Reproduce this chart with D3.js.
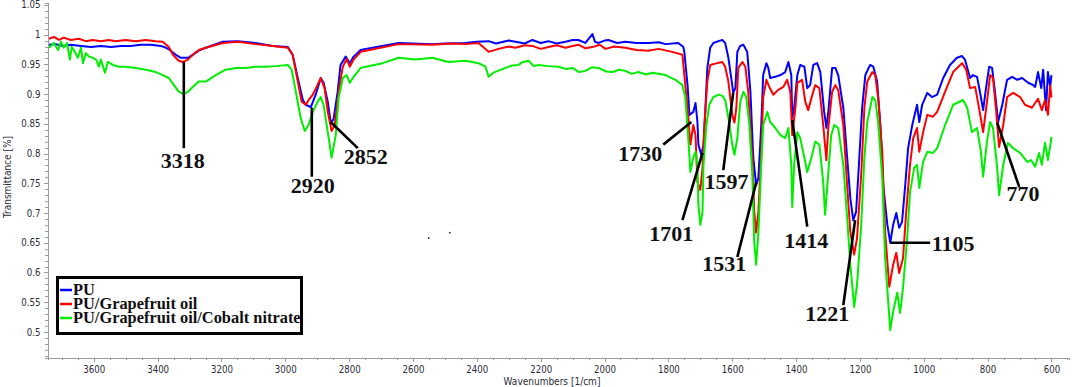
<!DOCTYPE html>
<meta charset="utf-8">
<head>
<style>
  body { margin:0; background:#fff; }
  .axis path, .axis line { stroke:#9c9c9c; shape-rendering:crispEdges; }
  .axis text { font-family:"DejaVu Sans Condensed","DejaVu Sans",sans-serif; font-stretch:condensed; font-size:9.6px; fill:#2b2b38; }
  .title { font-family:"DejaVu Sans Condensed","DejaVu Sans",sans-serif; font-stretch:condensed; font-size:10px; fill:#2b2b38; }
  .peak { font-family:"Liberation Serif","Times New Roman",serif; font-weight:bold; font-size:22px; fill:#111; }
  .legend text { font-family:"Liberation Serif","Times New Roman",serif; font-weight:bold; font-size:16.4px; fill:#111; }
</style>
</head>
<body>
<svg id="chart" width="1072" height="387"></svg>
<script src="https://d3js.org/d3.v7.min.js"></script>
<script>

// series names and colours
var seriesNames = ["PU", "PU/Grapefruit oil", "PU/Grapefruit oil/Cobalt nitrate"];
var seriesColors = ["#0000ff", "#ff0000", "#00ee00"];

// tick labels
var xTicks = [3600, 3400, 3200, 3000, 2800, 2600, 2400, 2200, 2000, 1800, 1600, 1400, 1200, 1000, 800, 600];
var yTicks = [0.5, 0.55, 0.6, 0.65, 0.7, 0.75, 0.8, 0.85, 0.9, 0.95, 1, 1.05];

// [wavenumber, transmittance]
var puData = [[3740,0.983],[3719,0.984],[3697,0.981],[3672,0.983],[3640,0.981],[3609,0.979],[3578,0.981],[3546,0.979],[3515,0.981],[3484,0.981],[3453,0.983],[3421,0.983],[3390,0.981],[3374,0.978],[3359,0.973],[3343,0.966],[3327,0.961],[3318,0.961],[3305,0.961],[3290,0.966],[3271,0.973],[3249,0.978],[3196,0.988],[3149,0.989],[3093,0.986],[3039,0.981],[2992,0.979],[2977,0.966],[2961,0.927],[2945,0.890],[2936,0.882],[2920,0.878],[2905,0.899],[2889,0.927],[2880,0.919],[2867,0.887],[2858,0.853],[2849,0.857],[2836,0.904],[2827,0.949],[2811,0.963],[2798,0.952],[2786,0.963],[2764,0.974],[2748,0.976],[2645,0.986],[2539,0.984],[2500,0.985],[2435,0.986],[2400,0.988],[2363,0.989],[2340,0.985],[2300,0.990],[2279,0.988],[2250,0.985],[2226,0.991],[2200,0.986],[2176,0.989],[2150,0.985],[2122,0.988],[2100,0.991],[2082,0.991],[2060,0.986],[2038,1.001],[2030,0.988],[2019,0.986],[2000,0.990],[1988,0.991],[1960,0.986],[1935,0.988],[1900,0.986],[1863,0.986],[1830,0.987],[1809,0.984],[1769,0.986],[1753,0.979],[1750,0.971],[1740,0.915],[1734,0.865],[1722,0.870],[1715,0.885],[1709,0.853],[1706,0.815],[1697,0.798],[1690,0.815],[1684,0.877],[1678,0.944],[1669,0.978],[1659,0.986],[1643,0.989],[1631,0.991],[1622,0.986],[1612,0.961],[1600,0.915],[1597,0.902],[1590,0.910],[1584,0.971],[1575,0.981],[1565,0.983],[1553,0.971],[1543,0.904],[1534,0.793],[1525,0.747],[1518,0.759],[1509,0.848],[1503,0.932],[1493,0.952],[1487,0.944],[1481,0.927],[1465,0.929],[1449,0.932],[1434,0.937],[1424,0.954],[1415,0.932],[1412,0.860],[1406,0.877],[1396,0.932],[1387,0.949],[1374,0.946],[1365,0.910],[1356,0.915],[1346,0.949],[1334,0.952],[1324,0.937],[1312,0.870],[1305,0.843],[1299,0.870],[1287,0.944],[1277,0.944],[1268,0.932],[1252,0.877],[1240,0.793],[1230,0.725],[1221,0.688],[1212,0.702],[1205,0.764],[1193,0.877],[1183,0.932],[1168,0.949],[1158,0.946],[1146,0.921],[1136,0.848],[1127,0.747],[1114,0.680],[1105,0.650],[1096,0.680],[1086,0.700],[1077,0.675],[1068,0.685],[1058,0.747],[1049,0.809],[1036,0.848],[1021,0.882],[1014,0.853],[1005,0.882],[989,0.902],[974,0.895],[958,0.899],[939,0.927],[918,0.949],[896,0.961],[880,0.964],[871,0.958],[855,0.927],[846,0.932],[833,0.929],[824,0.904],[814,0.873],[805,0.910],[795,0.946],[786,0.944],[777,0.904],[767,0.853],[754,0.882],[739,0.924],[723,0.929],[707,0.924],[692,0.927],[673,0.919],[657,0.915],[651,0.912],[642,0.937],[632,0.910],[626,0.941],[617,0.873],[611,0.937],[604,0.912],[600,0.932]];

var puOilData = [[3740,0.993],[3725,0.996],[3709,0.991],[3694,0.995],[3672,0.991],[3647,0.993],[3625,0.989],[3603,0.991],[3578,0.989],[3553,0.991],[3531,0.989],[3500,0.991],[3468,0.989],[3437,0.991],[3406,0.989],[3384,0.988],[3365,0.979],[3352,0.966],[3334,0.956],[3321,0.954],[3305,0.958],[3290,0.966],[3271,0.974],[3249,0.978],[3196,0.986],[3149,0.988],[3093,0.984],[3039,0.981],[2992,0.978],[2977,0.966],[2961,0.921],[2949,0.887],[2936,0.882],[2927,0.890],[2914,0.899],[2902,0.912],[2889,0.927],[2877,0.910],[2867,0.870],[2855,0.838],[2845,0.848],[2833,0.904],[2820,0.946],[2808,0.959],[2798,0.946],[2786,0.958],[2764,0.971],[2748,0.973],[2645,0.984],[2539,0.983],[2480,0.985],[2435,0.984],[2395,0.986],[2363,0.971],[2332,0.976],[2300,0.980],[2279,0.978],[2250,0.982],[2226,0.981],[2200,0.976],[2176,0.979],[2150,0.982],[2122,0.978],[2100,0.981],[2082,0.983],[2060,0.977],[2038,0.979],[2015,0.983],[1997,0.976],[1970,0.980],[1935,0.978],[1900,0.974],[1863,0.973],[1830,0.976],[1788,0.971],[1756,0.966],[1750,0.932],[1740,0.877],[1731,0.815],[1722,0.848],[1715,0.831],[1709,0.752],[1700,0.739],[1693,0.776],[1687,0.848],[1678,0.921],[1669,0.949],[1647,0.952],[1631,0.954],[1622,0.946],[1612,0.921],[1600,0.865],[1593,0.852],[1587,0.877],[1581,0.944],[1568,0.954],[1559,0.946],[1550,0.904],[1537,0.793],[1531,0.702],[1525,0.667],[1518,0.702],[1509,0.803],[1503,0.894],[1493,0.924],[1484,0.912],[1471,0.899],[1456,0.907],[1440,0.912],[1428,0.924],[1418,0.904],[1412,0.831],[1402,0.877],[1396,0.919],[1381,0.924],[1371,0.887],[1362,0.873],[1349,0.899],[1340,0.915],[1327,0.910],[1315,0.848],[1305,0.789],[1299,0.843],[1287,0.904],[1277,0.915],[1268,0.907],[1252,0.848],[1240,0.747],[1230,0.668],[1218,0.630],[1209,0.658],[1196,0.764],[1186,0.877],[1177,0.921],[1161,0.937],[1152,0.932],[1143,0.894],[1130,0.803],[1121,0.668],[1108,0.576],[1096,0.613],[1086,0.633],[1077,0.599],[1065,0.624],[1055,0.702],[1043,0.781],[1033,0.826],[1021,0.843],[1014,0.803],[1002,0.836],[989,0.865],[971,0.862],[958,0.870],[933,0.904],[908,0.937],[880,0.952],[867,0.941],[855,0.910],[839,0.912],[827,0.877],[814,0.836],[802,0.887],[792,0.932],[783,0.927],[773,0.870],[764,0.811],[751,0.848],[739,0.895],[720,0.902],[698,0.895],[683,0.882],[661,0.877],[651,0.885],[642,0.892],[630,0.873],[620,0.890],[611,0.865],[604,0.915],[600,0.894]];

var puCoData = [[3740,0.978],[3725,0.986],[3712,0.974],[3703,0.988],[3694,0.978],[3684,0.986],[3675,0.958],[3669,0.979],[3659,0.971],[3650,0.961],[3640,0.978],[3634,0.952],[3625,0.969],[3615,0.963],[3603,0.961],[3593,0.958],[3584,0.946],[3578,0.958],[3565,0.936],[3556,0.954],[3540,0.949],[3521,0.946],[3500,0.946],[3468,0.944],[3437,0.941],[3406,0.937],[3384,0.932],[3365,0.927],[3349,0.915],[3334,0.904],[3318,0.900],[3305,0.904],[3290,0.912],[3271,0.921],[3249,0.921],[3218,0.932],[3187,0.941],[3155,0.944],[3124,0.944],[3093,0.946],[3061,0.946],[3030,0.947],[2992,0.949],[2980,0.941],[2967,0.904],[2952,0.860],[2939,0.838],[2927,0.848],[2914,0.870],[2899,0.887],[2889,0.895],[2880,0.882],[2867,0.836],[2855,0.793],[2842,0.831],[2833,0.894],[2820,0.927],[2808,0.932],[2798,0.919],[2786,0.929],[2764,0.944],[2748,0.946],[2695,0.952],[2645,0.961],[2592,0.958],[2539,0.961],[2489,0.954],[2435,0.956],[2395,0.952],[2373,0.946],[2363,0.929],[2348,0.936],[2310,0.944],[2290,0.948],[2270,0.949],[2255,0.954],[2238,0.956],[2222,0.947],[2207,0.949],[2176,0.947],[2144,0.946],[2120,0.942],[2100,0.944],[2080,0.937],[2060,0.939],[2040,0.945],[2019,0.944],[1995,0.938],[1975,0.937],[1955,0.941],[1935,0.939],[1915,0.934],[1894,0.937],[1870,0.933],[1850,0.936],[1809,0.932],[1778,0.924],[1756,0.915],[1747,0.895],[1737,0.820],[1731,0.769],[1722,0.793],[1715,0.803],[1709,0.781],[1706,0.714],[1700,0.680],[1693,0.702],[1690,0.781],[1681,0.848],[1672,0.882],[1659,0.895],[1643,0.899],[1631,0.897],[1622,0.890],[1612,0.860],[1600,0.815],[1593,0.798],[1584,0.826],[1575,0.887],[1565,0.904],[1556,0.895],[1547,0.853],[1537,0.764],[1531,0.651],[1525,0.613],[1518,0.668],[1509,0.781],[1503,0.848],[1490,0.870],[1481,0.853],[1465,0.843],[1449,0.831],[1434,0.826],[1424,0.843],[1415,0.781],[1412,0.710],[1406,0.781],[1396,0.836],[1387,0.826],[1374,0.793],[1365,0.769],[1352,0.793],[1340,0.820],[1327,0.815],[1315,0.752],[1309,0.697],[1302,0.747],[1290,0.831],[1280,0.848],[1268,0.843],[1252,0.781],[1240,0.692],[1230,0.613],[1218,0.542],[1209,0.579],[1196,0.680],[1186,0.793],[1177,0.853],[1161,0.895],[1152,0.890],[1143,0.853],[1130,0.759],[1121,0.624],[1105,0.503],[1096,0.534],[1083,0.566],[1074,0.532],[1065,0.574],[1052,0.658],[1043,0.735],[1030,0.776],[1021,0.781],[1014,0.742],[1002,0.786],[989,0.803],[971,0.801],[958,0.809],[933,0.848],[908,0.882],[896,0.885],[877,0.890],[864,0.877],[849,0.836],[833,0.843],[821,0.803],[814,0.761],[802,0.820],[792,0.853],[783,0.843],[770,0.776],[764,0.730],[751,0.781],[736,0.818],[720,0.809],[698,0.801],[676,0.786],[664,0.789],[651,0.778],[639,0.801],[630,0.781],[620,0.818],[611,0.789],[601,0.823],[600,0.828]];

// peak labels: label, wavenumber, transmittance where the leader touches the curve
var peakLabels = ["3318", "2920", "2852", "1730", "1701", "1597", "1531", "1414", "1221", "1105", "770"];
var peakWave = [3318, 2917, 2858, 1728, 1693, 1597, 1525, 1412, 1215, 1105, 770];
var peakValue = [0.954, 0.877, 0.853, 0.853, 0.801, 0.902, 0.751, 0.857, 0.688, 0.650, 0.852];

// where each leader ends and where its number sits (data units)
var leaderEnd = [[3318,0.809],[2917,0.761],[2773,0.809],[1816,0.815],[1756,0.688],[1628,0.772],[1584,0.626],[1365,0.677],[1252,0.545],[980,0.650],[701,0.744]];
var labelAt = [[3321,0.776],[2914,0.734],[2748,0.783],[1888,0.788],[1791,0.653],[1618,0.741],[1625,0.603],[1368,0.641],[1302,0.519],[908,0.636],[689,0.720]];

// stray marks in the original figure
var strayDots = [[2551,0.658],[2485,0.667]];

var svg = d3.select("#chart");
var width = +svg.attr("width"), height = +svg.attr("height");

svg.append("rect").attr("width", width).attr("height", height).attr("fill", "#fff");

var x = d3.scaleLinear().domain([3745, 545]).range([47.5, 1069]);
var y = d3.scaleLinear().domain([0.457, 1.054]).range([357.5, 2.5]);

// minor ticks
var xMinor = d3.range(3700, 549, -50).filter(function(d){ return xTicks.indexOf(d) < 0 });
var yMinor = d3.range(46, 106).map(function(d){ return d / 100 }).filter(function(d){ return Math.round(d * 100) % 5 != 0 });

svg.append("g")
    .attr("class", "axis")
    .attr("transform", "translate(0,357.5)")
    .call(d3.axisBottom(x).tickValues(xMinor).tickSize(2.5).tickFormat(""));

svg.append("g")
    .attr("class", "axis")
    .attr("transform", "translate(0,357.5)")
    .call(d3.axisBottom(x).tickValues(xTicks).tickSizeInner(4).tickSizeOuter(0).tickPadding(5).tickFormat(d3.format("d")));

svg.append("g")
    .attr("class", "axis")
    .attr("transform", "translate(47.5,0)")
    .call(d3.axisLeft(y).tickValues(yMinor).tickSize(2.5).tickFormat(""));

svg.append("g")
    .attr("class", "axis")
    .attr("transform", "translate(47.5,0)")
    .call(d3.axisLeft(y).tickValues(yTicks).tickSizeInner(4).tickSizeOuter(0).tickPadding(3)
      .tickFormat(function(d){ return String(+d.toFixed(2)) }));

// axis titles
svg.append("text")
    .attr("class", "title")
    .attr("x", 552).attr("y", 385)
    .attr("text-anchor", "middle")
    .text("Wavenumbers [1/cm]");

svg.append("text")
    .attr("class", "title")
    .attr("transform", "translate(11,177) rotate(-90)")
    .attr("text-anchor", "middle")
    .text("Transmittance [%]");

// spectra
var line = d3.line()
    .x(function(d){ return x(d[0]) })
    .y(function(d){ return y(d[1]) });

var allSeries = [puData, puOilData, puCoData];
svg.append("g")
  .selectAll("path")
  .data(allSeries)
  .enter()
  .append("path")
    .attr("d", line)
    .attr("fill", "none")
    .attr("stroke", function(d, i){ return seriesColors[i] })
    .attr("stroke-width", 2)
    .attr("stroke-linejoin", "round");

svg.selectAll(".stray")
  .data(strayDots)
  .enter()
  .append("circle")
    .attr("cx", function(d){ return x(d[0]) })
    .attr("cy", function(d){ return y(d[1]) })
    .attr("r", 0.9)
    .attr("fill", "#333");

// peak annotations
var peaks = svg.append("g");
peakLabels.forEach(function(lab, i){
  peaks.append("line")
    .attr("x1", x(peakWave[i])).attr("y1", y(peakValue[i]))
    .attr("x2", x(leaderEnd[i][0])).attr("y2", y(leaderEnd[i][1]))
    .attr("stroke", "#000")
    .attr("stroke-width", 2.6);
  peaks.append("text")
    .attr("class", "peak")
    .attr("x", x(labelAt[i][0])).attr("y", y(labelAt[i][1]))
    .attr("text-anchor", "middle")
    .text(lab);
});

// legend
var legend = svg.append("g").attr("class", "legend");
legend.append("rect")
    .attr("x", 57.5).attr("y", 277.5)
    .attr("width", 244).attr("height", 56)
    .attr("fill", "#fff")
    .attr("stroke", "#000")
    .attr("stroke-width", 3);

seriesNames.forEach(function(name, i){
  var cy = 290 + i * 14;
  legend.append("line")
    .attr("x1", 60).attr("x2", 72)
    .attr("y1", cy).attr("y2", cy)
    .attr("stroke", seriesColors[i])
    .attr("stroke-width", 2.5);
  legend.append("text")
    .attr("x", 73).attr("y", cy + 5)
    .text(name);
});

</script>
</body>
